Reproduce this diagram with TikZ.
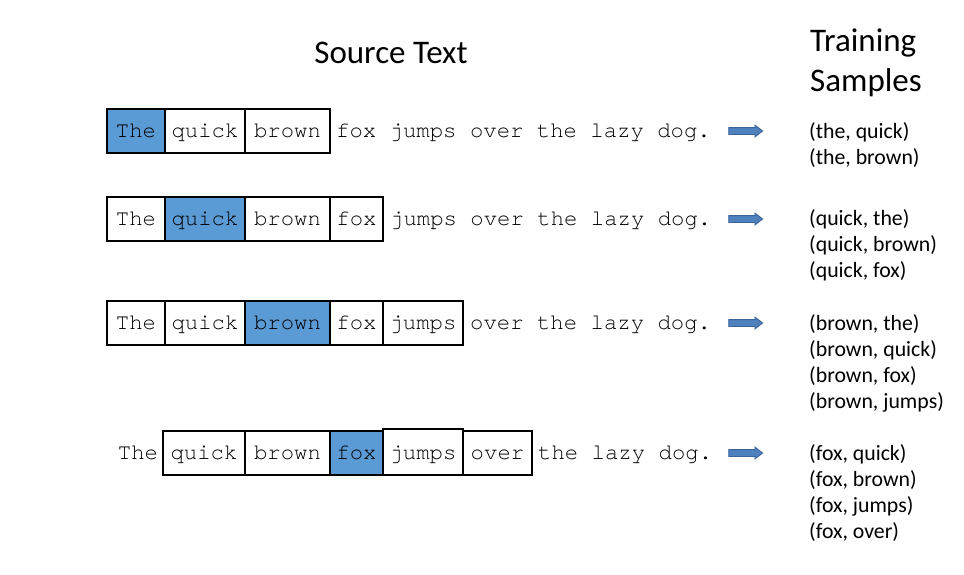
\documentclass[tikz,border=0pt]{standalone}
\usepackage{fontspec}
\setmainfont{Carlito}
\newfontfamily\codefont{TeX Gyre Cursor}
\usetikzlibrary{shapes.arrows}

\definecolor{hl}{HTML}{5B9BD5}
\definecolor{arrowfill}{HTML}{4F81BD}
\definecolor{arrowedge}{HTML}{3A6496}

\tikzset{
  word/.style={font=\codefont\fontsize{22.3}{26}\selectfont,
    text height=15, text depth=3, inner sep=0},
  cell/.style={word, draw=black, line width=1.6, minimum height=44},
  focus/.style={cell, fill=hl},
  rest/.style={word, anchor=base west},
  flow/.style={single arrow, draw=arrowedge, fill=arrowfill, line width=0.8,
    text height=0, text depth=0, inner sep=3, minimum height=34,
    single arrow head extend=2.6, single arrow tip angle=75},
  heading/.style={font=\fontsize{33}{39}\selectfont, inner sep=0},
  pair/.style={font=\fontsize{21.8}{26}\selectfont, inner sep=0, anchor=base west},
}

\begin{document}
\begin{tikzpicture}[x=1pt, y=-1pt]
  \path[use as bounding box] (0,0) rectangle (964,574);

  % headings
  \node[heading, anchor=base] (src) at (391,63) {Source Text};
  \node[heading, anchor=base west] (trainA) at (810,51) {Training};
  \node[heading, anchor=base west] (trainB) at (810,91) {Samples};

  % window around "The"
  \node[focus, minimum width=58] (r1a) at (136,131) {The};
  \node[cell,  minimum width=80] (r1b) at (205,131) {quick};
  \node[cell,  minimum width=85] (r1c) at (287.5,131) {brown};
  \node[rest] (r1t) at (336,137) {fox jumps over the lazy dog.};
  \node[flow] (r1arr) at (743.5,131) {};
  \node[pair] (p11) at (809,138) {(the, quick)};
  \node[pair] (p12) at (809,164) {(the, brown)};

  % window around "quick"
  \node[cell,  minimum width=58] (r2a) at (136,219) {The};
  \node[focus, minimum width=80] (r2b) at (205,219) {quick};
  \node[cell,  minimum width=85] (r2c) at (287.5,219) {brown};
  \node[cell,  minimum width=53] (r2d) at (356.5,219) {fox};
  \node[rest] (r2t) at (390,225) {jumps over the lazy dog.};
  \node[flow] (r2arr) at (743.5,219) {};
  \node[pair] (p21) at (809,225) {(quick, the)};
  \node[pair] (p22) at (809,251) {(quick, brown)};
  \node[pair] (p23) at (809,277) {(quick, fox)};

  % window around "brown"
  \node[cell,  minimum width=58] (r3a) at (136,323) {The};
  \node[cell,  minimum width=80] (r3b) at (205,323) {quick};
  \node[focus, minimum width=85] (r3c) at (287.5,323) {brown};
  \node[cell,  minimum width=53] (r3d) at (356.5,323) {fox};
  \node[cell,  minimum width=80] (r3e) at (423,323) {jumps};
  \node[rest] (r3t) at (470,329) {over the lazy dog.};
  \node[flow] (r3arr) at (743.5,323) {};
  \node[pair] (p31) at (809,330) {(brown, the)};
  \node[pair] (p32) at (809,356) {(brown, quick)};
  \node[pair] (p33) at (809,382) {(brown, fox)};
  \node[pair] (p34) at (809,408) {(brown, jumps)};

  % window around "fox"
  \node[word] (r4a) at (138,453) {The};
  \node[cell,  minimum width=82] (r4b) at (204,453) {quick};
  \node[cell,  minimum width=85] (r4c) at (287.5,453) {brown};
  \node[focus, minimum width=53] (r4d) at (356.5,453) {fox};
  \node[cell,  minimum width=80, minimum height=46,
        text height=16, text depth=2] (r4e) at (423,452) {jumps};
  \node[cell,  minimum width=69] (r4f) at (497.5,453) {over};
  \node[rest] (r4t) at (538,459) {the lazy dog.};
  \node[flow] (r4arr) at (743.5,453) {};
  \node[pair] (p41) at (809,460) {(fox, quick)};
  \node[pair] (p42) at (809,486) {(fox, brown)};
  \node[pair] (p43) at (809,512) {(fox, jumps)};
  \node[pair] (p44) at (809,538) {(fox, over)};
\end{tikzpicture}
\end{document}
